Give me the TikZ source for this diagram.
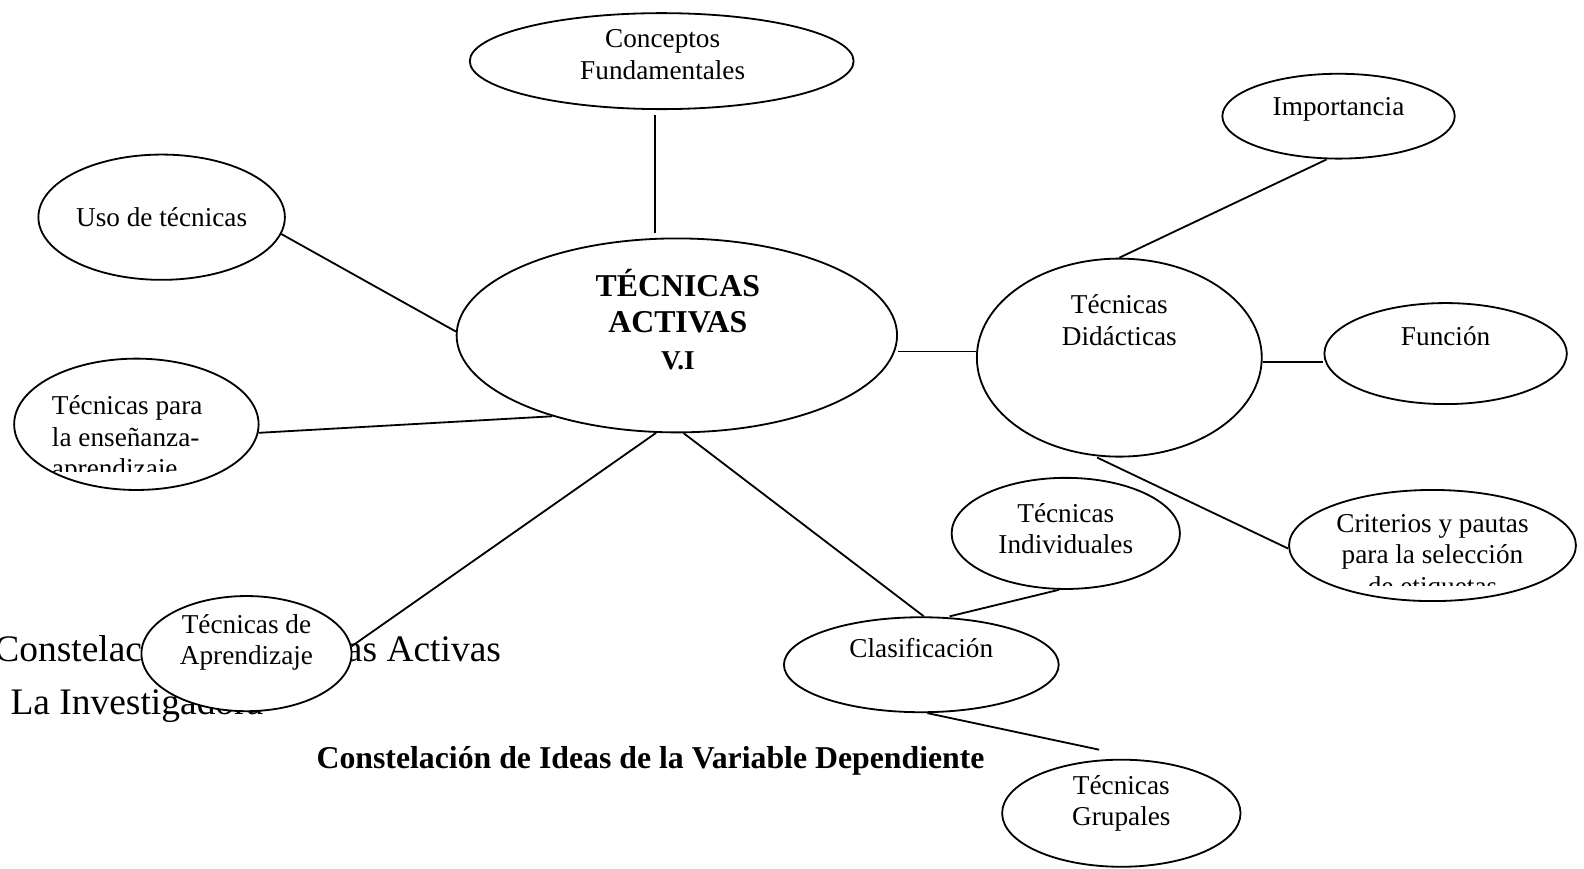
\documentclass[tikz,border=0pt]{standalone}
\usepackage{fontspec}
\setmainfont{Liberation Serif}
\usetikzlibrary{shapes.geometric}
\def\UU{0.445}
\tikzset{
  x=0.445pt, y=-0.445pt,
  bub/.style={ellipse, draw, fill=white, line width=0.8pt, inner sep=0pt},
  lbl/.style={inner sep=0pt, align=center, font=\fontsize{12}{13.8}\selectfont},
  con/.style={line width=0.8pt},
  bgtext/.style={anchor=west, inner sep=0pt, font=\fontsize{16.5}{19}\selectfont},
}
\newcommand\mybub[5]{\node[bub, minimum width={2*#4*\UU pt}, minimum height={2*#5*\UU pt}] (#1) at (#2,#3) {};}
\begin{document}
\begin{tikzpicture}
\useasboundingbox (0,0) rectangle (1568,860);
% background text partly hidden
\node[bgtext] (bgA) at (-6,642) {Constelación de Técnicas Activas};
\node[bgtext] (bgB) at (10,698) {La Investigadora};
% ellipses
\mybub{concept}{655}{60.5}{190}{47.5}
\mybub{uso}{160}{215}{122}{62}
\mybub{tec}{670}{332}{218}{96}
\mybub{para}{135}{420}{121}{65}
\mybub{apr}{244}{647}{104}{57}
\mybub{imp}{1325}{115}{115}{42}
\mybub{did}{1108}{354}{141}{98}
\mybub{fun}{1431}{350}{120}{50}
\mybub{cri}{1418}{540}{142}{55}
\mybub{ind}{1055}{528}{113}{55}
\mybub{clas}{912}{658}{136}{47}
\mybub{grup}{1110}{805}{118}{53}
% labels
\node[lbl] (tConcept) at (656,54) {Conceptos\\Fundamentales};
\node[lbl] (tUso) at (160,215) {Uso de técnicas};
\node[lbl, font=\bfseries\fontsize{14}{16.1}\selectfont] (tTec) at (671,316) {TÉCNICAS\\ACTIVAS\\{\fontsize{12}{13.8}\selectfont V.I}};
\begin{scope}
\clip (0,350) rectangle (260,467);
\node[lbl, align=left, anchor=west] (tPara) at (51,435) {Técnicas para\\la enseñanza-\\aprendizaje};
\end{scope}
\node[lbl] (tApr) at (244,636) {Técnicas de\\Aprendizaje};
\node[lbl] (tImp) at (1325,108) {Importancia};
\node[lbl] (tDid) at (1108,317) {Técnicas\\Didácticas};
\node[lbl] (tFun) at (1431,333) {Función};
\begin{scope}
\clip (1270,480) rectangle (1568,580);
\node[lbl] (tCri) at (1418,552) {Criterios y pautas\\para la selección\\de etiquetas};
\end{scope}
\node[lbl] (tInd) at (1055,523) {Técnicas\\Individuales};
\node[lbl] (tClas) at (912,641) {Clasificación};
\node[lbl] (tGrup) at (1110,795) {Técnicas\\Grupales};
% title
\node[inner sep=0pt, font=\bfseries\fontsize{14}{16.1}\selectfont] (title) at (644,753) {Constelación de Ideas de la Variable Dependiente};
% connectors
\draw[con] ([shift={(-7,5)}]concept.south) -- ([shift={(-22,-4)}]tec.north);
\draw[con] (uso.-8) -- (tec.179);
\draw[con] (para.-4) -- (tec.213);
\draw[con] (tec.258) -- (apr.4);
\draw[con] (tec.274) -- (clas.87);
\draw[con] ([shift={(0,16)}]tec.east) -- ([shift={(0,-6)}]did.west);
\draw[con] (did.north) -- ([shift={(-12,0)}]imp.south);
\draw[con] ([shift={(0,4)}]did.east) -- ([shift={(0,8)}]fun.west);
\draw[con] ([shift={(-22,0)}]did.south) -- ([shift={(0,3)}]cri.west);
\draw[con] ([shift={(28,0)}]clas.north) -- ([shift={(-7,0)}]ind.south);
\draw[con] ([shift={(6,0)}]clas.south) -- ([shift={(-22,-9)}]grup.north);
\end{tikzpicture}
\end{document}
